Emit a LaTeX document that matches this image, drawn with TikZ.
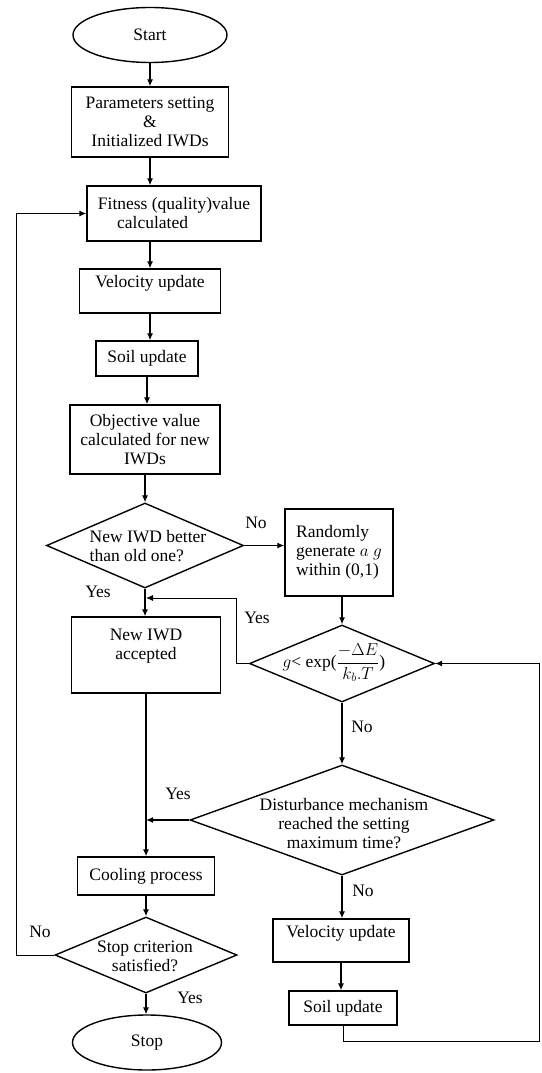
\documentclass[tikz,border=0pt]{standalone}
\usepackage{fontspec}
\setmainfont{Liberation Serif}
\usetikzlibrary{shapes.geometric,arrows.meta}

\begin{document}
\begin{tikzpicture}[x=1pt,y=-1pt,
    font=\fontsize{17.5}{19}\selectfont,
    line width=1.4pt,
    arrow/.style={draw,line width=1.2pt,-{Latex[length=7pt,width=6pt]}},
    loopline/.style={arrow,line width=0.9pt},
    lbl/.style={inner sep=0pt}]

  \useasboundingbox (0,0) rectangle (541,1073);

  % terminals and process boxes
  \begin{scope}[every node/.style={draw,align=center,inner sep=0pt}]
    \node[ellipse,minimum width=154,minimum height=55] (start) at (150,35)   {Start};
    \node[minimum width=157,minimum height=70] (param)   at (150,122)  {Parameters setting\\\&\\Initialized IWDs};
    \node[minimum width=174,minimum height=55,align=left] (fitness) at (174,213.5) {Fitness (quality)value\\\hspace*{1.1em}calculated};
    \node[minimum width=141,minimum height=44] (velo)    at (150,291)  {Velocity update\\\mbox{}};
    \node[minimum width=102,minimum height=35] (soil)    at (147,358.5) {Soil update};
    \node[minimum width=150,minimum height=69] (obj)     at (145,439.5) {Objective value\\calculated for new\\IWDs};
    \node[minimum width=108,minimum height=87,align=left] (random) at (339,552.5) {Randomly\\generate $a$ $g$\\within (0,1)};
    \node[minimum width=149,minimum height=76] (accept)  at (146,655)  {New IWD\\accepted\\[2pt]\mbox{}};
    \node[minimum width=137,minimum height=38] (cool)    at (146,876)  {Cooling process};
    \node[ellipse,minimum width=149,minimum height=55] (stop) at (147,1042.5) {Stop};
    \node[minimum width=136,minimum height=43] (velo2)   at (341,940.5) {Velocity update\\\mbox{}};
    \node[minimum width=108,minimum height=34] (soil2)   at (343,1008) {Soil update};
  \end{scope}

  % decisions
  \begin{scope}[every node/.style={draw,diamond,inner sep=0pt}]
    \node[minimum width=197,minimum height=85]  (better)  at (145,545.5) {};
    \node[minimum width=185,minimum height=77]  (accprob) at (342,663.5) {};
    \node[minimum width=304,minimum height=110] (disturb) at (342,820)   {};
    \node[minimum width=182,minimum height=76]  (stopq)   at (146,955)   {};
  \end{scope}

  \begin{scope}[every node/.style={align=center,inner sep=0pt}]
    \node[align=left] (bettertxt) at (148,546) {New IWD better\\than old one?};
    \node (accprobtxt) at (334,663) {$g$< exp($\displaystyle\frac{-\Delta E}{k_b.T}$)};
    \node (disturbtxt) at (344,824) {Disturbance mechanism\\reached the setting\\maximum time?};
    \node (stopqtxt)   at (145,956) {Stop criterion\\satisfied?};
  \end{scope}

  % branch labels
  \node[lbl] (no1)  at (256,523) {No};
  \node[lbl] (yes1) at (98,592)  {Yes};
  \node[lbl] (yes2) at (257,618) {Yes};
  \node[lbl] (no2)  at (362,727) {No};
  \node[lbl] (yes3) at (178,794) {Yes};
  \node[lbl] (no3)  at (363,891) {No};
  \node[lbl] (no4)  at (40,932)  {No};
  \node[lbl] (yes4) at (190,998) {Yes};

  \coordinate (yesturn) at (236,598);
  \coordinate (yesin)   at (146,598);
  \coordinate (loopL)   at (16,0);
  \coordinate (loopR)   at (539,1041);

  % main column
  \path[arrow] (start) -- (param);
  \path[arrow] (param.south) -- (param.south |- fitness.north);
  \path[arrow] (velo.north |- fitness.south) -- (velo.north);
  \path[arrow] (velo.south) -- (velo.south |- soil.north);
  \path[arrow] (soil.south) -- (soil.south |- obj.north);
  \path[arrow] (obj.south) -- (better.north);
  \path[arrow] (better.south) -- (better.south |- accept.north);
  \path[arrow] (accept.south) -- (accept.south |- cool.north);
  \path[arrow] (cool.south) -- (stopq.north);
  \path[arrow] (stopq.south) -- (stopq.south |- stop.north);

  % right column
  \path[arrow] (better.east) -- (better.east -| random.west);
  \path[arrow] (random.south -| accprob.north) -- (accprob.north);
  \path[arrow] (accprob.south) -- (disturb.north);
  \path[arrow] (disturb.south) -- (disturb.south |- velo2.north);
  \path[arrow] (velo2.south) -- (velo2.south |- soil2.north);

  % returns
  \path[loopline] (accprob.west) -| (yesturn) -- (yesin);
  \path[arrow] (disturb.west) -- (disturb.west -| accept.south);
  \path[loopline] (stopq.west) -- (stopq.west -| loopL) |- (fitness.west);
  \path[loopline] (soil2.south) |- (loopR) |- (accprob.east);

\end{tikzpicture}
\end{document}
